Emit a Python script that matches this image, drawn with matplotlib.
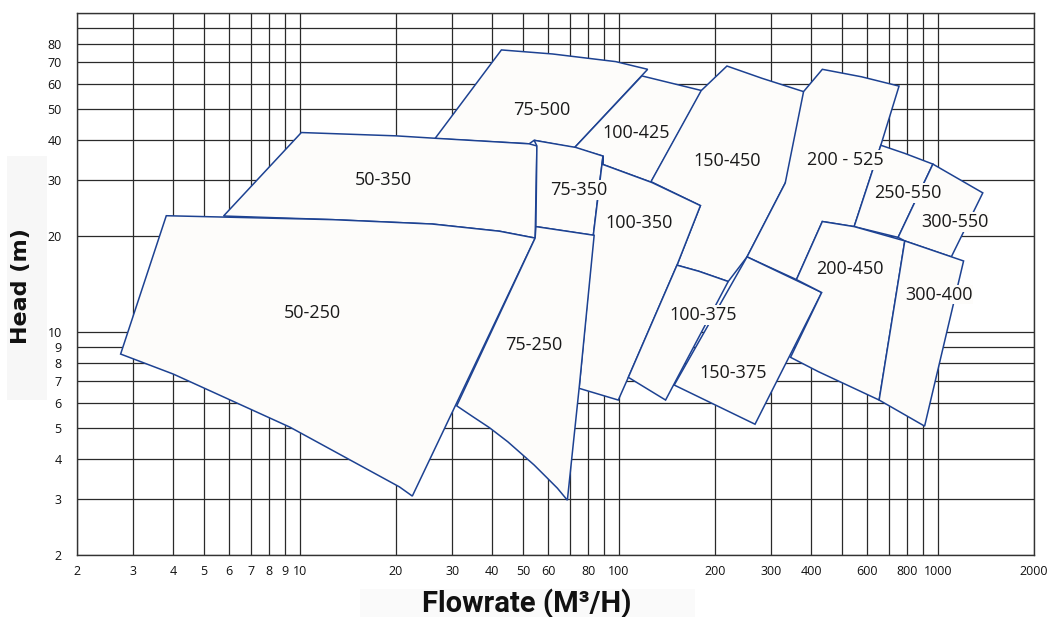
import matplotlib
matplotlib.use("Agg")
import numpy as np
import matplotlib.pyplot as plt
from matplotlib.patches import Polygon, Rectangle
from matplotlib.ticker import NullLocator, FixedLocator, FixedFormatter

# ---------------- axis ticks ----------------
x_grid = [2, 3, 4, 5, 6, 7, 8, 9, 10, 20, 30, 40, 50, 60, 70, 80, 90, 100,
          200, 300, 400, 500, 600, 700, 800, 900, 1000, 2000]
x_labeled = [2, 3, 4, 5, 6, 7, 8, 9, 10, 20, 30, 40, 50, 60, 80, 100,
             200, 300, 400, 600, 800, 1000, 2000]
y_grid = [2, 3, 4, 5, 6, 7, 8, 9, 10, 20, 30, 40, 50, 60, 70, 80, 90, 100]
y_labeled = [2, 3, 4, 5, 6, 7, 8, 9, 10, 20, 30, 40, 50, 60, 70, 80]

# ---------------- pump coverage regions (flow m3/h, head m) ----------------
q_75_500 = [26.5, 42.8, 61.9, 97.7, 123, 72.5, 54.2, 52.3]
h_75_500 = [40.4, 76.6, 74.4, 70.4, 66.6, 37.8, 39.9, 38.9]

q_100_425 = [72.5, 118, 182, 126, 89.1, 89.1]
h_100_425 = [37.8, 63.5, 57.1, 29.5, 33.5, 35.6]

q_150_450 = [181, 218, 281, 379, 430, 332, 252, 220, 178, 152, 180, 126]
h_150_450 = [57.1, 68.2, 62.4, 56.7, 53.4, 29.3, 17.2, 14.4, 15.5, 16.2, 24.9, 29.6]

q_200_525 = [379, 434, 576, 755, 662, 546, 434, 360, 252, 332]
h_200_525 = [56.7, 66.6, 63.1, 59.0, 38.5, 21.4, 22.2, 14.6, 17.2, 29.3]

q_250_550 = [662, 787, 964, 750, 546]
h_250_550 = [38.5, 36.3, 33.6, 19.8, 21.4]

q_300_550 = [964, 1382, 1101, 787, 750]
h_300_550 = [33.6, 27.3, 17.2, 19.3, 19.8]

q_50_350 = [5.76, 10.1, 20.0, 26.4, 52.3, 55.3, 54.6, 42.2, 26.0, 12.7]
h_50_350 = [23.1, 42.2, 41.2, 40.5, 38.9, 38.3, 19.7, 20.7, 21.8, 22.5]

q_50_250 = [2.74, 3.81, 12.7, 26.0, 42.2, 54.6, 22.5, 20.5, 9.31, 4.01]
h_50_250 = [8.53, 23.15, 22.5, 21.8, 20.7, 19.7, 3.06, 3.27, 5.03, 7.38]

q_75_350 = [54.2, 73.2, 89.1, 86.6, 83.1, 54.9, 55.3]
h_75_350 = [39.9, 37.9, 35.6, 28.5, 20.1, 21.4, 38.3]

q_100_350 = [89.1, 127, 180, 152, 107, 99.5, 75.0, 83.1, 89.1]
h_100_350 = [33.5, 29.4, 24.9, 16.2, 7.21, 6.12, 6.66, 20.1, 35.6]

q_75_250 = [54.9, 83.6, 75.0, 68.9, 64.1, 59.0, 54.2, 49.9, 44.8, 39.3, 34.8, 31.0, 54.6]
h_75_250 = [21.4, 20.1, 6.66, 2.97, 3.24, 3.52, 3.83, 4.12, 4.53, 5.01, 5.43, 5.87, 19.7]

q_100_375 = [152, 178, 220, 140, 107]
h_100_375 = [16.2, 15.5, 14.4, 6.12, 7.21]

q_150_375 = [252, 432, 267, 149]
h_150_375 = [17.2, 13.3, 5.14, 6.82]

q_200_450 = [434, 546, 787, 654, 422, 345, 432, 360]
h_200_450 = [22.2, 21.4, 19.3, 6.12, 7.51, 8.33, 13.3, 14.6]

q_300_400 = [787, 1203, 908, 654]
h_300_400 = [19.3, 16.7, 5.07, 6.12]

# label names and label anchor points (flow, head)
names = ["75-500", "100-425", "150-450", "200 - 525", "250-550", "300-550",
         "50-350", "50-250", "75-350", "100-350", "75-250", "100-375",
         "150-375", "200-450", "300-400"]
label_q = [57.1, 113, 219, 512, 806, 1130, 18.2, 10.9, 75.0, 116, 54.2, 183, 228, 531, 1007]
label_h = [49.7, 42.1, 34.4, 34.6, 27.3, 22.1, 30.0, 11.5, 27.9, 22.0, 9.1, 11.3, 7.44, 15.8, 13.1]

regions = [(q_75_500, h_75_500), (q_100_425, h_100_425), (q_150_450, h_150_450),
           (q_200_525, h_200_525), (q_250_550, h_250_550), (q_300_550, h_300_550),
           (q_50_350, h_50_350), (q_50_250, h_50_250), (q_75_350, h_75_350),
           (q_100_350, h_100_350), (q_75_250, h_75_250), (q_100_375, h_100_375),
           (q_150_375, h_150_375), (q_200_450, h_200_450), (q_300_400, h_300_400)]

FILL = "#fdfcfa"
EDGE = "#1d4292"
GRID = "#2a2a2a"

W, H = 1048, 617
fig = plt.figure(figsize=(W / 100, H / 100), dpi=100)
fig.patch.set_facecolor("white")

# faint backgrounds behind axis titles
fig.patches.append(Rectangle((7 / W, 1 - 400 / H), 40 / W, 244 / H,
                             transform=fig.transFigure, fc="#f7f7f7", ec="none", zorder=0))
fig.patches.append(Rectangle((360 / W, 0), 335 / W, 28 / H,
                             transform=fig.transFigure, fc="#fafafa", ec="none", zorder=0))

ax = fig.add_axes([77 / W, 1 - 555 / H, (1034 - 77) / W, (555 - 13) / H])
ax.set_xscale("log")
ax.set_yscale("log")
ax.set_xlim(2, 2000)
ax.set_ylim(2, 100)
ax.set_facecolor("white")

ax.xaxis.set_major_locator(FixedLocator(x_grid))
ax.xaxis.set_major_formatter(FixedFormatter([str(v) if v in x_labeled else "" for v in x_grid]))
ax.yaxis.set_major_locator(FixedLocator(y_grid))
ax.yaxis.set_major_formatter(FixedFormatter([str(v) if v in y_labeled else "" for v in y_grid]))
ax.xaxis.set_minor_locator(NullLocator())
ax.yaxis.set_minor_locator(NullLocator())
ax.tick_params(axis="both", length=0, labelsize=9, colors="#111111")
ax.tick_params(axis="x", pad=7)
ax.tick_params(axis="y", pad=11)
for lab in ax.get_xticklabels() + ax.get_yticklabels():
    lab.set_family(["Open Sans", "DejaVu Sans"])

ax.grid(True, which="major", color=GRID, lw=0.9)
ax.set_axisbelow(True)
for sp in ax.spines.values():
    sp.set_color("#333333")
    sp.set_linewidth(1.0)

for i, (q, h) in enumerate(regions):
    pts = np.column_stack([q, h])
    ax.add_patch(Polygon(pts, closed=True, fc=FILL, ec=EDGE, lw=1.1,
                         joinstyle="miter", zorder=2 + i * 0.01))

for name, lq, lh in zip(names, label_q, label_h):
    ax.text(lq, lh, name, ha="center", va="center", fontsize=13,
            family=["Open Sans", "DejaVu Sans"], color="#1a1a1a", zorder=5,
            bbox=dict(fc=FILL, ec="none", pad=0.5))

fig.text(21 / W, 1 - 286 / H, "Head (m)", rotation=90, ha="center", va="center",
         fontsize=16, fontweight="bold", family=["DejaVu Sans"], color="#111111")
fig.text(527 / W, 1 - 604 / H, "Flowrate (M³/H)", ha="center", va="center",
         fontsize=21, fontweight="bold", family=["Roboto", "DejaVu Sans"], color="#111111")

fig.savefig("out.png", dpi=100, facecolor="white")
